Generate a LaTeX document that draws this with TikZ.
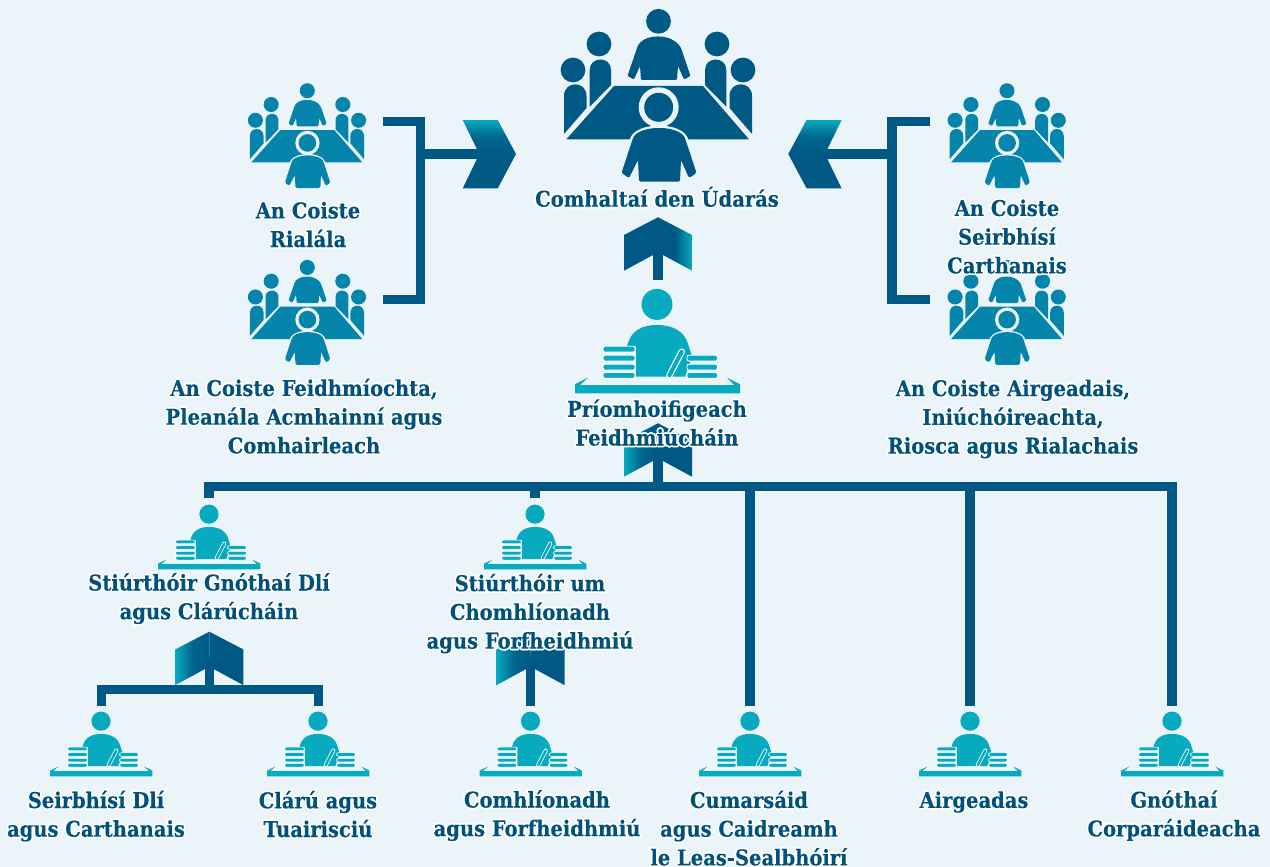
\documentclass[tikz,border=0pt]{standalone}
\usepackage{fontspec}
\usepackage{contour}
\usetikzlibrary{calc}
\newfontfamily\labelfont{DejaVu Serif Condensed}[BoldFont={DejaVu Serif Condensed Bold},BoldFeatures={FakeBold=0.25}]
\definecolor{bgblue}{RGB}{235,244,248}
\definecolor{navy}{RGB}{0,89,133}
\definecolor{midblue}{RGB}{6,133,172}
\definecolor{teal}{RGB}{7,170,191}
\definecolor{textblue}{RGB}{0,82,124}
\contourlength{1.6pt}
\newcommand{\hl}[1]{\vphantom{Ág}\contour{white}{#1}}
\tikzset{
    link/.style={navy,line width=9.3pt},
    lbl/.style={inner sep=0pt,align=center,text=textblue,font=\labelfont\bfseries\fontsize{21.7}{28.7}\selectfont},
    pics/meeting/.style 2 args={code={
        \fill[#1] (0.5,-64.7) circle[radius=12.4];
        \fill[#1,rounded corners=1.2pt] (-30.5,-10) -- (-21,-38) .. controls (-18,-46) and (-9,-49.5) .. (0,-49.5) .. controls (9,-49.5) and (18,-46) .. (23,-38) -- (32.5,-10) -- (26,-6.5) -- (20,-20) -- (19,-6) -- (-17,-6) -- (-18,-20) -- (-24,-6.5) -- cycle;
        \foreach \s in {-1,1} {
            \fill[#1] ({\s*59},-42) circle[radius=12.4];
            \fill[#1] ({\s*85},-16) circle[radius=12.4];
            \fill[#1] ({\s*68.3},20.7) -- ({\s*68.3},-16) .. controls ({\s*68.3},-30) and ({\s*47},-30) .. ({\s*47},-16) -- ({\s*47},-1) -- cycle;
            \fill[#1] ({\s*94},48) -- ({\s*94},10) .. controls ({\s*94},-5.6) and ({\s*71.5},-5.6) .. ({\s*71.5},10) -- ({\s*71.5},22) -- cycle;
        }
        % table
        \fill[#1] (-44,0) -- (45,0) -- (91,53.3) -- (-91.7,53.3) -- cycle;
        % front person
        \fill[bgblue] (0.7,21.3) circle[radius=20];
        \fill[#1] (0.7,21.3) circle[radius=14.5];
        \draw[bgblue,line width=5*#2 pt,line join=round] (-36,87) -- (-25,52) .. controls (-21,45) and (-9,42) .. (1,42) .. controls (11,42) and (23,45) .. (27,52) -- (38,87);
        \fill[#1,rounded corners=1.5pt] (-36.5,87) -- (-25,52) .. controls (-21,45) and (-9,42) .. (1,42) .. controls (11,42) and (23,45) .. (27,52) -- (38.5,87) -- (31,92) -- (23,74) -- (22,95.7) -- (-19,95.7) -- (-20,74) -- (-29,92) -- cycle;
    }},
    pics/desk/.style={code={
        \fill[teal] (0,-72.3) circle[radius=15.5];
        \fill[teal] (-30,-30) .. controls (-27,-46) and (-15,-51.7) .. (0,-51.7) .. controls (15,-51.7) and (27,-46) .. (31,-33) -- (35,-20) -- (28,0) -- (-21,0) -- (-21,-30) -- cycle;
        % books
        \foreach \y in {-30.5,-21.5,-12.5,-4.2}
            \filldraw[teal,draw=white,line width=0.9*#1 pt,rounded corners=2pt] (-54,\y) rectangle (-22,\y+5.9);
        \foreach \y in {-21.5,-12.5,-4.2}
            \filldraw[teal,draw=white,line width=0.9*#1 pt,rounded corners=2pt] (30,\y) rectangle (60.5,\y+5.9);
        % pen
        \draw[white,line width=6.5*#1 pt,line cap=round] (24.7,-25) -- (12.5,-1.5);
        \draw[teal,line width=4*#1 pt,line cap=round] (24.7,-25) -- (12.5,-1.5);
        % desk
        \fill[teal] (-82,16.7) -- (-82,7.5) -- (-69,1) -- (-77,8.3) -- (77,8.3) -- (70,1) -- (83,7.5) -- (83,16.7) -- cycle;
    }},
    pics/chevside/.style={code={
        \shade[top color=teal,bottom color=navy,middle color=navy!85!teal] (-53.3,-34) -- (-18.3,-34) -- (0,0) -- (-36.7,0) -- cycle;
        \fill[navy] (-36.7,0) -- (0,0) -- (-18.3,34.4) -- (-53.3,34.4) -- cycle;
    }},
    pics/chevfaderight/.style={code={
        \fill[navy] (-34,17.7) -- (0,0) -- (0,35) -- (-34,53.4) -- cycle;
        \shade[left color=navy,right color=teal,middle color=navy] (34,17.7) -- (0,0) -- (0,35) -- (34,53.4) -- cycle;
    }},
    pics/chevfadeleft/.style={code={
        \shade[left color=teal,right color=navy,middle color=navy!85!teal] (-34,17.7) -- (0,0) -- (0,35) -- (-34,53.4) -- cycle;
        \fill[navy] (34,17.7) -- (0,0) -- (0,35) -- (34,53.4) -- cycle;
    }}
}

\begin{document}
\begin{tikzpicture}[x=1pt,y=-1pt]
    \fill[bgblue] (0,0) rectangle (1270,867);
    \useasboundingbox (0,0) rectangle (1270,867);

    % Positions
    \coordinate (board) at (658,86);
    \coordinate (regul) at (307,130);
    \coordinate (execu) at (307,306.7);
    \coordinate (chari) at (1006.7,130);
    \coordinate (finan) at (1006.7,306.7);
    \coordinate (ceo) at (657,376.7);
    \coordinate (legal) at (209,559);
    \coordinate (compl) at (535,559);
    \coordinate (serv) at (101,766);
    \coordinate (rep) at (318,766);
    \coordinate (enf) at (530.5,766);
    \coordinate (comms) at (750,766);
    \coordinate (money) at (970,766);
    \coordinate (corp) at (1172,766);

    % Connectors
    \coordinate (brkLtop) at (383,121.3);
    \coordinate (brkLbot) at (383,299.7);
    \coordinate (brkLmid) at (420.3,154);
    \coordinate (tipL) at (516,154);
    \coordinate (brkRtop) at (930,121.3);
    \coordinate (brkRbot) at (930,299.7);
    \coordinate (brkRmid) at (892,154);
    \coordinate (tipR) at (788.3,154);
    \draw[link] (brkLtop) -| (brkLmid) |- (brkLbot);
    \draw[link] (brkLmid) -- ($(tipL)+(-30,0)$);
    \draw[link] (brkRtop) -| (brkRmid) |- (brkRbot);
    \draw[link] (brkRmid) -- ($(tipR)+(30,0)$);

    \coordinate (tipCeo) at (658,217.3);
    \coordinate (ceoTop) at (658,280);
    \coordinate (tipBus) at (658,423.3);
    \coordinate (busMid) at (658,486.3);
    \draw[link] (ceoTop) -- ($(tipCeo)+(0,25)$);
    \draw[link] (busMid) -- ($(tipBus)+(0,25)$);

    \coordinate (legalTop) at (209,498);
    \coordinate (complTop) at (535,498);
    \coordinate (commsTop) at (750,706.3);
    \coordinate (moneyTop) at (970,706.3);
    \coordinate (corpTop) at (1172,706.3);
    \draw[link] (legalTop) |- (busMid) -| (corpTop);
    \draw[link] (complTop) -- (complTop |- busMid);
    \draw[link] (commsTop) -- (commsTop |- busMid);
    \draw[link] (moneyTop) -- (moneyTop |- busMid);

    \coordinate (tipLegal) at (209.3,631.7);
    \coordinate (subMid) at (209.3,689.8);
    \coordinate (servTop) at (101.5,706.3);
    \coordinate (repTop) at (318.3,706.3);
    \draw[link] (servTop) |- (subMid) -| (repTop);
    \draw[link] (subMid) -- ($(tipLegal)+(0,25)$);

    \coordinate (tipCompl) at (530.5,631.7);
    \coordinate (enfTop) at (530.5,706.3);
    \draw[link] (enfTop) -- ($(tipCompl)+(0,25)$);

    % Arrow heads
    \pic at (tipL) {chevside};
    \pic[xscale=-1] at (tipR) {chevside};
    \pic at (tipCeo) {chevfaderight};
    \pic at (tipBus) {chevfadeleft};
    \pic at (tipLegal) {chevfadeleft};
    \pic at (tipCompl) {chevfadeleft};

    % Meetings
    \pic at (board) {meeting={navy}{1}};
    \pic[scale=0.607] at (regul) {meeting={midblue}{0.607}};
    \pic[scale=0.607] at (execu) {meeting={midblue}{0.607}};
    \pic[scale=0.607] at (chari) {meeting={midblue}{0.607}};
    \pic[scale=0.607] at (finan) {meeting={midblue}{0.607}};

    % Desks
    \pic at (ceo) {desk=1};
    \pic[scale=0.62] at (legal) {desk=0.62};
    \pic[scale=0.62] at (compl) {desk=0.62};
    \pic[scale=0.62] at (serv) {desk=0.62};
    \pic[scale=0.62] at (rep) {desk=0.62};
    \pic[scale=0.62] at (enf) {desk=0.62};
    \pic[scale=0.62] at (comms) {desk=0.62};
    \pic[scale=0.62] at (money) {desk=0.62};
    \pic[scale=0.62] at (corp) {desk=0.62};

    % Labels
    \node[lbl] (tboard) at (657,199) {\hl{Comhaltaí den Údarás}};
    \node[lbl] (tregul) at (308,225) {\hl{An Coiste}\\\hl{Rialála}};
    \node[lbl] (texecu) at (304,417) {\hl{An Coiste Feidhmíochta,}\\\hl{Pleanála Acmhainní agus}\\\hl{Comhairleach}};
    \node[lbl] (tchari) at (1007,237) {\hl{An Coiste}\\\hl{Seirbhísí}\\\hl{Carthanais}};
    \node[lbl] (tfinan) at (1013,418) {\hl{An Coiste Airgeadais,}\\\hl{Iniúchóireachta,}\\\hl{Riosca agus Rialachais}};
    \node[lbl] (tceo) at (657,423.5) {\hl{Príomhoifigeach}\\\hl{Feidhmiúcháin}};
    \node[lbl] (tlegal) at (209,598) {\hl{Stiúrthóir Gnóthaí Dlí}\\\hl{agus Clárúcháin}};
    \node[lbl] (tcompl) at (530,613) {\hl{Stiúrthóir um}\\\hl{Chomhlíonadh}\\\hl{agus Forfheidhmiú}};
    \node[lbl] (tserv) at (96,815.5) {\hl{Seirbhísí Dlí}\\\hl{agus Carthanais}};
    \node[lbl] (trep) at (318,815) {\hl{Clárú agus}\\\hl{Tuairisciú}};
    \node[lbl] (tenf) at (537,815) {\hl{Comhlíonadh}\\\hl{agus Forfheidhmiú}};
    \node[lbl] (tcomms) at (749,829) {\hl{Cumarsáid}\\\hl{agus Caidreamh}\\\hl{le Leas-Sealbhóirí}};
    \node[lbl] (tmoney) at (974,801) {\hl{Airgeadas}};
    \node[lbl] (tcorp) at (1174,815) {\hl{Gnóthaí}\\\hl{Corparáideacha}};
\end{tikzpicture}
\end{document}
